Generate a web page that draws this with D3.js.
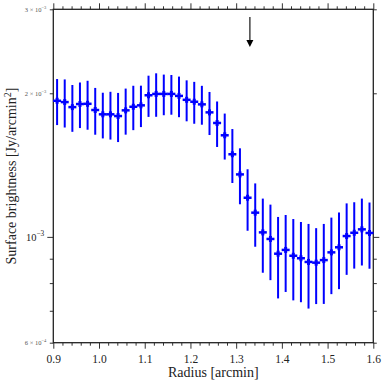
<!DOCTYPE html>
<html><head><meta charset="utf-8">
<script src="https://cdn.jsdelivr.net/npm/d3@7"></script>
<style>
html,body{margin:0;padding:0;background:#fff;}
svg{display:block;}
text{font-family:"Liberation Serif","DejaVu Serif",serif;}
</style></head>
<body>
<svg id="chart" width="383" height="383"></svg>
<script>
// Data
const radius = [0.9083,0.925,0.9417,0.9583,0.975,0.9917,1.0083,1.025,1.0417,1.0583,
  1.075,1.0917,1.1083,1.125,1.1417,1.1583,1.175,1.1917,1.2083,1.225,
  1.2417,1.2583,1.275,1.2917,1.3083,1.325,1.3417,1.3583,1.375,1.3917,
  1.4083,1.425,1.4417,1.4583,1.475,1.4917,1.5083,1.525,1.5417,1.5583,
  1.575,1.5917];
const brightness = [0.001929,0.001917,0.001871,0.001899,0.001901,0.001845,0.001807,0.001807,0.001792,0.001842,
  0.001874,0.001887,0.001981,0.001994,0.001994,0.001994,0.001975,0.001938,0.001920,0.001896,
  0.001824,0.001733,0.001633,0.001490,0.001352,0.001208,0.001124,0.001022,0.000990,0.000922,
  0.000939,0.000913,0.000902,0.000886,0.000883,0.000894,0.000928,0.000951,0.001004,0.001020,
  0.001037,0.001019];
const brightnessErr = [0.0002135,0.0002215,0.0002105,0.000208,0.0002235,0.0002075,0.0001985,0.0002075,0.0002115,0.000204,
  0.000200,0.000188,0.0001965,0.0002085,0.000195,0.0001905,0.000193,0.000191,0.0001935,0.0001775,
  0.000189,0.0001895,0.0001805,0.000193,0.0001815,0.000178,0.0001705,0.000181,0.0001785,0.000179,
  0.0001725,0.000177,0.0001725,0.0001785,0.000160,0.0001705,0.0001695,0.000174,0.0001715,0.000162,
  0.000166,0.0001615];
const xMajorTicks = [0.9,1.0,1.1,1.2,1.3,1.4,1.5,1.6];
const xMinorTicks = [0.92,0.94,0.96,0.98,1.02,1.04,1.06,1.08,1.12,1.14,1.16,1.18,1.22,1.24,1.26,1.28,
  1.32,1.34,1.36,1.38,1.42,1.44,1.46,1.48,1.52,1.54,1.56,1.58];
const yTicks = [6e-4,7e-4,8e-4,9e-4,1e-3,2e-3,3e-3];
const yTickLabels = [
  {v:3e-3, mant:"3", exp:"\u22123", small:true},
  {v:2e-3, mant:"2", exp:"\u22123", small:true},
  {v:1e-3, mant:null, exp:"\u22123", small:false},
  {v:6e-4, mant:"6", exp:"\u22124", small:true}
];
const arrowRadius = 1.33;
const arrowFrom = 2.89e-3, arrowTo = 2.5e-3;

const svg = d3.select("#chart");
const L = 53.3, R = 373.3, T = 9.3, B = 342.7;
const x = d3.scaleLinear().domain([0.9,1.6]).range([L,R]);
const y = d3.scaleLog().domain([6e-4,3e-3]).range([B,T]);
const axisColor = "#222";

// Axes (ticks outward)
function styleAxis(g){
  g.select(".domain").remove();
  g.selectAll("line").attr("stroke","#333").attr("stroke-width",1);
}
// bottom
svg.append("g").attr("transform",`translate(0,${B})`)
  .call(d3.axisBottom(x).tickValues(xMajorTicks).tickSize(6).tickFormat(d3.format(".1f")))
  .call(styleAxis)
  .call(g=>g.selectAll("text").attr("font-size",11.5).attr("fill","#222").attr("dy","0.95em"));
svg.append("g").attr("transform",`translate(0,${B})`)
  .call(d3.axisBottom(x).tickValues(xMinorTicks).tickSize(3).tickFormat(""))
  .call(styleAxis);
// top
svg.append("g").attr("transform",`translate(0,${T})`)
  .call(d3.axisTop(x).tickValues(xMajorTicks).tickSize(6).tickFormat(""))
  .call(styleAxis);
svg.append("g").attr("transform",`translate(0,${T})`)
  .call(d3.axisTop(x).tickValues(xMinorTicks).tickSize(3).tickFormat(""))
  .call(styleAxis);
// left / right
const yMajor = [1e-3];
const yMinor = yTicks.filter(v=>v!==1e-3);
svg.append("g").attr("transform",`translate(${L},0)`)
  .call(d3.axisLeft(y).tickValues(yMajor).tickSize(6).tickFormat(""))
  .call(styleAxis);
svg.append("g").attr("transform",`translate(${L},0)`)
  .call(d3.axisLeft(y).tickValues(yMinor).tickSize(3.5).tickFormat(""))
  .call(styleAxis);
svg.append("g").attr("transform",`translate(${R},0)`)
  .call(d3.axisRight(y).tickValues(yMajor).tickSize(6).tickFormat(""))
  .call(styleAxis);
svg.append("g").attr("transform",`translate(${R},0)`)
  .call(d3.axisRight(y).tickValues(yMinor).tickSize(3.5).tickFormat(""))
  .call(styleAxis);

// y tick labels
yTickLabels.forEach(t=>{
  const fs = t.small ? 6.5 : 10.5;
  const tx = svg.append("text")
    .attr("x", L - (t.small ? 7 : 9))
    .attr("y", y(t.v) + fs*0.35)
    .attr("text-anchor","end")
    .attr("font-size", fs)
    .attr("fill", t.small ? "#555" : "#222");
  tx.append("tspan").text(t.mant ? t.mant + " \u00d7 10" : "10");
  tx.append("tspan").attr("dy", -fs*0.45).attr("font-size", fs*0.7).text(t.exp);
});

// frame
svg.append("rect").attr("x",L).attr("y",T).attr("width",R-L).attr("height",B-T)
  .attr("fill","none").attr("stroke",axisColor).attr("stroke-width",1.3);

// error bars
const data = radius.map((r,i)=>({r, v:brightness[i], e:brightnessErr[i]}));
const gE = svg.append("g");
gE.selectAll("line.err").data(data).enter().append("line")
  .attr("x1",d=>x(d.r)).attr("x2",d=>x(d.r))
  .attr("y1",d=>y(d.v+d.e)).attr("y2",d=>y(d.v-d.e))
  .attr("stroke","#0000ff").attr("stroke-width",2);
gE.selectAll("line.hm").data(data).enter().append("line")
  .attr("x1",d=>x(d.r)-4).attr("x2",d=>x(d.r)+4)
  .attr("y1",d=>y(d.v)).attr("y2",d=>y(d.v))
  .attr("stroke","#0000ff").attr("stroke-width",2.5);
gE.selectAll("line.vm").data(data).enter().append("line")
  .attr("x1",d=>x(d.r)).attr("x2",d=>x(d.r))
  .attr("y1",d=>y(d.v)-3).attr("y2",d=>y(d.v)+3)
  .attr("stroke","#0000ff").attr("stroke-width",3);

// arrow
const ax = x(arrowRadius);
svg.append("line").attr("x1",ax).attr("x2",ax)
  .attr("y1",y(arrowFrom)).attr("y2",y(arrowTo)-5)
  .attr("stroke","#444").attr("stroke-width",1.5);
svg.append("path")
  .attr("d",`M${ax-3.5},${y(arrowTo)-7} L${ax+3.5},${y(arrowTo)-7} L${ax},${y(arrowTo)} Z`)
  .attr("fill","#000");

// axis titles
svg.append("text").attr("x",(L+R)/2).attr("y",377)
  .attr("text-anchor","middle").attr("font-size",14).attr("fill","#222")
  .text("Radius [arcmin]");
const yl = svg.append("text")
  .attr("transform",`translate(16,${(T+B)/2}) rotate(-90)`)
  .attr("text-anchor","middle").attr("font-size",14).attr("fill","#222");
yl.append("tspan").text("Surface brightness [Jy/arcmin");
yl.append("tspan").attr("dy",-5).attr("font-size",10).text("2");
yl.append("tspan").attr("dy",5).text("]");
</script>
</body></html>
